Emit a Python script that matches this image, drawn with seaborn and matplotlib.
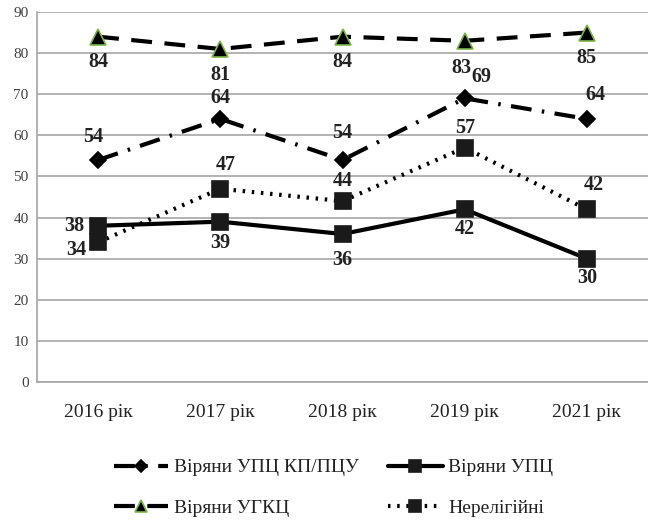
import matplotlib
matplotlib.use("Agg")
import matplotlib.pyplot as plt
import seaborn as sns
import pandas as pd
from matplotlib.lines import Line2D
from matplotlib.font_manager import FontProperties

years = ["2016 рік", "2017 рік", "2018 рік", "2019 рік", "2021 рік"]
kp = [54, 64, 54, 69, 64]
upc = [38, 39, 36, 42, 30]
ugkc = [84, 81, 84, 83, 85]
nonrel = [34, 47, 44, 57, 42]
names = ["Віряни УПЦ КП/ПЦУ", "Віряни УПЦ", "Віряни УГКЦ", "Нерелігійні"]

sns.set_style("white")
plt.rcParams['font.family'] = ['Liberation Serif', 'DejaVu Serif']

fig = plt.figure(figsize=(6.48, 5.21), dpi=100)
ax = fig.add_axes([37/648, 1-382/521, 1-37/648, 370/521])

df = pd.DataFrame({"year": years * 4,
                   "value": kp + upc + ugkc + nonrel,
                   "series": sum([[n] * 5 for n in names], [])})

styles = {
    names[0]: dict(ls=(0, (5, 2.5, 0.6, 2.5)), marker="D", ms=8, mfc="black", mec="black"),
    names[1]: dict(ls="-", marker="s", ms=11, mfc="#1a1a1a", mec="#1a1a1a"),
    names[2]: dict(ls=(0, (5, 3)), marker="^", ms=11, mfc="black", mec="#7ab648"),
    names[3]: dict(ls=(0, (0.6, 1.6)), marker="s", ms=11, mfc="#1a1a1a", mec="#1a1a1a"),
}
zorders = {names[0]: 3, names[1]: 4, names[2]: 3, names[3]: 3}

for n in names:
    sub = df[df.series == n]
    st = styles[n]
    sns.lineplot(data=sub, x="year", y="value", ax=ax, color="black", lw=3,
                 linestyle=st["ls"], marker=st["marker"], markersize=st["ms"],
                 markerfacecolor=st["mfc"], markeredgecolor=st["mec"],
                 markeredgewidth=1.2, zorder=zorders[n], sort=False)

ax.set_ylim(0, 90)
ax.set_xlim(-0.5, 4.5 - 14/125)
ax.set_yticks(range(0, 91, 10))
ax.set_xlabel("")
ax.set_ylabel("")
ax.yaxis.grid(True, color="#a6a6a6", lw=1.2)
ax.set_axisbelow(True)
for s in ["top", "right"]:
    ax.spines[s].set_visible(False)
for s in ["left", "bottom"]:
    ax.spines[s].set_color("#a6a6a6")
    ax.spines[s].set_linewidth(1.2)
ax.tick_params(axis="y", labelsize=11, labelcolor="#404040", length=0, pad=6)
ax.tick_params(axis="x", labelsize=14, labelcolor="#222222", length=0, pad=16)
ax.set_xticks([i + 0.5 for i in range(-1, 5)], minor=True)
ax.tick_params(axis="x", which="minor", length=6, color="#a6a6a6", width=1.2)

lab = dict(fontsize=14.5, fontweight="bold", color="#222222", ha="center", va="center")
# offsets in pixels (x right, y up)
off_kp = [(-5, 23), (0, 21), (0, 27), (17, 21), (8, 24)]
off_upc = [(-24, 0), (0, -21), (0, -26), (0, -20), (0, -19)]
off_ugkc = [(0, -25), (0, -26), (0, -25), (-3, -27), (0, -25)]
off_non = [(-22, -8), (5, 24), (0, 20), (0, 20), (7, 24)]
for vals, offs in [(kp, off_kp), (upc, off_upc), (ugkc, off_ugkc), (nonrel, off_non)]:
    for i, (v, o) in enumerate(zip(vals, offs)):
        ax.annotate(str(v), (i, v), xytext=(o[0] * 0.72, o[1] * 0.72),
                    textcoords="offset points", **lab)

handles = []
for n in names:
    st = styles[n]
    handles.append(Line2D([], [], color="black", lw=3, linestyle=st["ls"], marker=st["marker"],
                          markersize=st["ms"] * 0.8, markerfacecolor=st["mfc"],
                          markeredgecolor=st["mec"], markeredgewidth=1.2))
order = [0, 2, 1, 3]
fp = FontProperties(family=['Liberation Serif', 'DejaVu Serif'], size=14)
leg = fig.legend([handles[i] for i in order], [names[i] for i in order], ncol=2,
                 loc="center", bbox_to_anchor=(0.515, 1 - 488/521), frameon=False,
                 prop=fp, handlelength=2.8, columnspacing=1.5, labelspacing=1.2,
                 handletextpad=0.3)
for t in leg.get_texts():
    t.set_color("#222222")

fig.savefig("out.png", dpi=100)
